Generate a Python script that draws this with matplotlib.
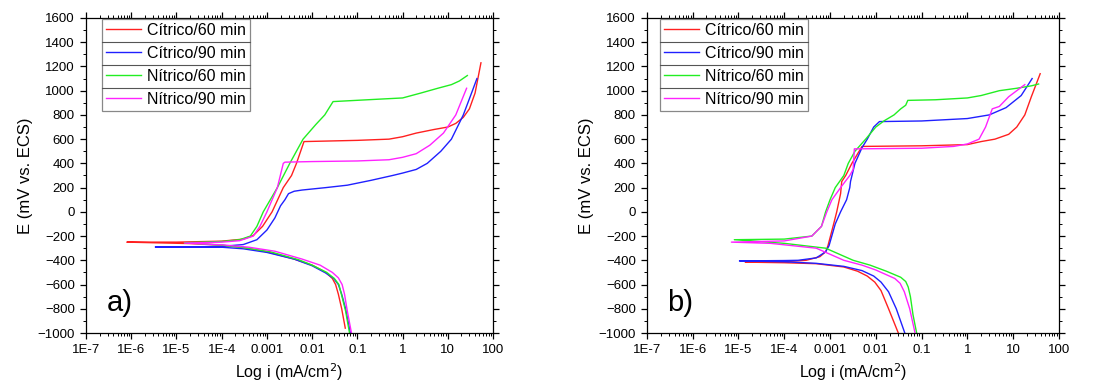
import numpy as np
import matplotlib.pyplot as plt
from matplotlib.ticker import LogLocator, MultipleLocator, FixedFormatter, FixedLocator

plt.rcParams['font.family'] = ['Liberation Sans', 'DejaVu Sans']

labels = ['Cítrico/60 min', 'Cítrico/90 min', 'Nítrico/60 min', 'Nítrico/90 min']
colors = ['#ff2020', '#2020ff', '#22ee22', '#ff22ff']

# panel a) -- (i in mA/cm2, E in mV), traced from cathodic end to anodic end
a_c60_i = [0.054, 0.045, 0.038, 0.033, 0.028, 0.02, 0.01, 0.004, 0.001, 3e-4, 1e-4, 2e-5, 8e-7,
           1e-5, 1e-4, 3e-4, 5e-4, 8e-4, 0.0013, 0.0023, 0.0035, 0.0045, 0.0066,
           0.1, 0.5, 1, 2, 5, 10, 15, 22, 30, 40, 54]
a_c60_E = [-960, -800, -680, -600, -550, -500, -440, -390, -330, -295, -275, -262, -250,
           -250, -242, -225, -195, -120, 0, 200, 300, 400, 580,
           590, 600, 620, 650, 680, 700, 730, 780, 850, 980, 1230]

a_c90_i = [0.07, 0.055, 0.045, 0.038, 0.03, 0.02, 0.01, 0.004, 0.001, 3e-4, 1e-4, 2e-5, 3.4e-6,
           2e-5, 1e-4, 3e-4, 6e-4, 0.001, 0.0015, 0.002, 0.0025, 0.003, 0.004, 0.006,
           0.02, 0.06, 0.2, 0.6, 1, 2, 3.5, 7, 12, 22, 35, 44]
a_c90_E = [-1000, -800, -680, -600, -550, -505, -445, -390, -335, -305, -292, -290, -290,
           -289, -285, -270, -230, -150, -50, 50, 100, 150, 170, 180,
           200, 220, 260, 300, 320, 350, 400, 500, 600, 800, 1000, 1100]

a_n60_i = [0.067, 0.055, 0.045, 0.039, 0.031, 0.021, 0.01, 0.005, 0.0012, 3e-4, 1e-4, 1.5e-5,
           1e-4, 2.5e-4, 4.3e-4, 6e-4, 8.3e-4, 0.0017, 0.0032, 0.0063, 0.012, 0.019, 0.029,
           0.3, 1, 2.5, 6, 12, 18, 27]
a_n60_E = [-1000, -820, -690, -600, -550, -500, -440, -395, -330, -295, -275, -255,
           -245, -230, -200, -120, 0, 200, 400, 600, 720, 800, 910,
           930, 940, 980, 1020, 1050, 1080, 1125]

a_n90_i = [0.074, 0.06, 0.052, 0.046, 0.038, 0.028, 0.015, 0.006, 0.0015, 4e-4, 1e-4, 1.5e-5,
           1e-4, 2.5e-4, 5e-4, 7e-4, 0.001, 0.0017, 0.0023, 0.0025,
           0.01, 0.1, 0.5, 1, 2, 4, 8, 15, 26]
a_n90_E = [-1000, -820, -680, -600, -545, -500, -440, -390, -325, -292, -272, -258,
           -250, -238, -200, -120, 0, 200, 400, 410,
           415, 420, 430, 450, 480, 550, 650, 800, 1020]

# panel b)
b_c60_i = [0.031, 0.019, 0.013, 0.0095, 0.0065, 0.004, 0.002, 5e-4, 1e-4, 1.4e-5,
           1e-4, 3e-4, 6e-4, 8e-4, 9e-4, 0.0012, 0.0014, 0.0017, 0.00175, 0.0018, 0.0022, 0.003, 0.005,
           0.1, 1, 2, 4, 8, 12, 18, 25, 39]
b_c60_E = [-1000, -800, -650, -580, -530, -490, -455, -428, -420, -415,
           -412, -400, -370, -330, -280, -100, 0, 150, 200, 250, 300, 400, 540,
           545, 555, 580, 600, 640, 700, 800, 950, 1140]

b_c90_i = [0.043, 0.028, 0.019, 0.013, 0.009, 0.005, 0.002, 5e-4, 1e-4, 1.05e-5,
           1e-4, 2e-4, 5e-4, 8e-4, 9.5e-4, 0.0013, 0.0017, 0.0023, 0.0027, 0.0028, 0.0035, 0.005,
           0.0065, 0.009, 0.012, 0.1, 1, 3, 7, 15, 26]
b_c90_E = [-1000, -800, -660, -580, -530, -485, -450, -425, -412, -405,
           -402, -400, -380, -330, -280, -100, 0, 100, 200, 250, 400, 530,
           600, 700, 745, 750, 770, 800, 860, 960, 1100]

b_n60_i = [0.078, 0.065, 0.057, 0.051, 0.045, 0.035, 0.017, 0.0075, 0.0032, 8e-4, 1e-4, 8.1e-6,
           1e-4, 4e-4, 6.5e-4, 8e-4, 0.001, 0.0013, 0.002, 0.0025, 0.0035, 0.006, 0.01, 0.015,
           0.025, 0.035, 0.045, 0.05, 0.2, 1, 2, 5, 12, 25, 36]
b_n60_E = [-1000, -850, -700, -620, -575, -540, -490, -440, -400, -300, -260, -230,
           -225, -200, -120, 0, 100, 200, 300, 400, 500, 600, 700, 750,
           800, 850, 880, 920, 925, 940, 960, 1000, 1020, 1040, 1055]

b_n90_i = [0.072, 0.055, 0.042, 0.034, 0.026, 0.01, 0.005, 0.002, 5e-4, 5e-5, 7e-6,
           1e-4, 4e-4, 6.5e-4, 8.5e-4, 0.0011, 0.0017, 0.0027, 0.0032, 0.0034,
           0.004, 0.1, 0.5, 1, 1.8, 2.5, 3.5, 5, 8, 18]
b_n90_E = [-1000, -800, -660, -590, -550, -480, -440, -400, -300, -260, -250,
           -240, -200, -120, 0, 100, 200, 300, 350, 520,
           520, 525, 540, 560, 600, 700, 850, 870, 950, 1050]

panels = [
    ('a)', [(a_c60_i, a_c60_E), (a_c90_i, a_c90_E), (a_n60_i, a_n60_E), (a_n90_i, a_n90_E)]),
    ('b)', [(b_c60_i, b_c60_E), (b_c90_i, b_c90_E), (b_n60_i, b_n60_E), (b_n90_i, b_n90_E)]),
]

xticks = [1e-7, 1e-6, 1e-5, 1e-4, 1e-3, 1e-2, 1e-1, 1, 10, 100]
xticklabels = ['1E-7', '1E-6', '1E-5', '1E-4', '0.001', '0.01', '0.1', '1', '10', '100']

fig = plt.figure(figsize=(10.93, 3.86), dpi=100)
rects = [[0.0787, 0.1373, 0.3724, 0.8161], [0.5919, 0.1373, 0.3769, 0.8161]]
leg_x = [16 / 407, 13 / 412]

for rect, lx, (tag, series) in zip(rects, leg_x, panels):
    ax = fig.add_axes(rect)
    for (i, E), lab, c in zip(series, labels, colors):
        ax.plot(i, E, color=c, lw=1.0, label=lab)
    ax.set_xscale('log')
    ax.set_xlim(1e-7, 100)
    ax.set_ylim(-1000, 1600)
    ax.xaxis.set_major_locator(FixedLocator(xticks))
    ax.xaxis.set_major_formatter(FixedFormatter(xticklabels))
    ax.xaxis.set_minor_locator(LogLocator(base=10, subs=np.arange(2, 10), numticks=20))
    ax.yaxis.set_major_locator(MultipleLocator(200))
    ax.yaxis.set_minor_locator(MultipleLocator(100))
    ax.tick_params(which='both', direction='out', top=True, right=True, labelsize=9.5)
    ax.tick_params(which='major', length=4.5, width=0.9)
    ax.tick_params(which='minor', length=2.5, width=0.7)
    for s in ax.spines.values():
        s.set_linewidth(0.9)
    ax.set_xlabel('Log i (mA/cm$^2$)', fontsize=11.5, labelpad=4)
    ax.set_ylabel('E (mV vs. ECS)', fontsize=12, labelpad=3)
    ax.text(0.05, 0.05, tag, transform=ax.transAxes, fontsize=21, ha='left', va='bottom')
    leg = ax.legend(loc='upper left', bbox_to_anchor=(lx, 0.997), fontsize=11.5, frameon=True,
                    fancybox=False, edgecolor='#888888', borderaxespad=0.0, handlelength=2.2,
                    handletextpad=0.35, borderpad=0.25, labelspacing=0.5)
    leg.get_frame().set_linewidth(0.9)
    leg.get_frame().set_alpha(1)
    # separators between legend rows
    fig.canvas.draw()
    bb = leg.get_window_extent().transformed(ax.transAxes.inverted())
    texts = leg.get_texts()
    ys = [t.get_window_extent().transformed(ax.transAxes.inverted()) for t in texts]
    for k in range(len(ys) - 1):
        y = (ys[k].y0 + ys[k + 1].y1) / 2
        ax.plot([bb.x0, bb.x1], [y, y], transform=ax.transAxes, color='#555555', lw=0.8,
                clip_on=False, zorder=10)

fig.savefig('out.png', dpi=100)
